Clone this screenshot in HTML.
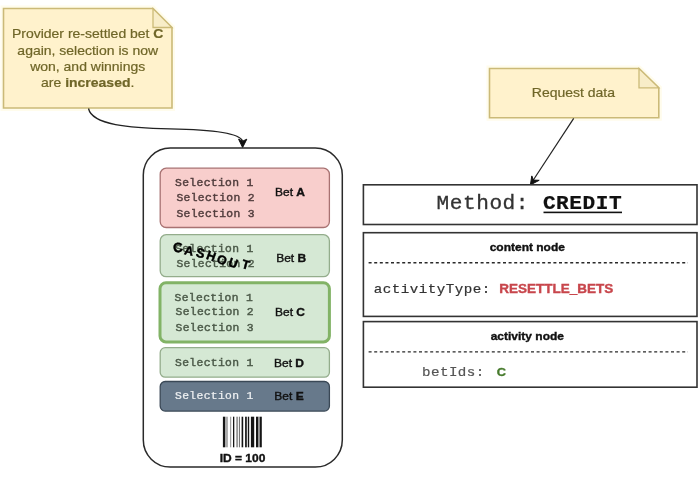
<!DOCTYPE html>
<html><head><meta charset="utf-8">
<style>
html,body{margin:0;padding:0;background:#fff;width:698px;height:499px;overflow:hidden}
svg{display:block;filter:blur(0.4px)}
.sans{font-family:"Liberation Sans",sans-serif}
.mono{font-family:"Liberation Mono",monospace}
</style></head><body>
<svg width="698" height="499" viewBox="0 0 698 499">
<rect x="0" y="0" width="698" height="499" fill="#fff"/>
<path d="M3.5 8.5 H153 L172 27.5 V108 H3.5 Z" fill="none" stroke="#fffcec" stroke-width="6"/>
<path d="M489.5 68.5 H639 L658.8 87.8 V117.8 H489.5 Z" fill="none" stroke="#fffcec" stroke-width="6"/>
<path d="M3.5 8.5 H153 L172 27.5 V108 H3.5 Z" fill="#fff2cc" stroke="#cbba78" stroke-width="1.6"/>
<path d="M153 8.5 V27.5 H172 Z" fill="#f8edc8" stroke="#cbba78" stroke-width="1.3"/>
<g transform="translate(87.7 38.0) scale(1 0.88)"><text class="sans" x="0" y="0" font-size="14" fill="#6f6628" stroke="#6f6628" stroke-width="0.22" text-anchor="middle">Provider re-settled bet <tspan font-weight="bold">C</tspan></text></g>
<g transform="translate(87.7 55.0) scale(1 0.88)"><text class="sans" x="0" y="0" font-size="14" fill="#6f6628" stroke="#6f6628" stroke-width="0.22" text-anchor="middle">again, selection is now</text></g>
<g transform="translate(87.7 71.2) scale(1 0.88)"><text class="sans" x="0" y="0" font-size="14" fill="#6f6628" stroke="#6f6628" stroke-width="0.22" text-anchor="middle">won, and winnings</text></g>
<g transform="translate(87.7 87.3) scale(1 0.88)"><text class="sans" x="0" y="0" font-size="14" fill="#6f6628" stroke="#6f6628" stroke-width="0.22" text-anchor="middle">are <tspan font-weight="bold">increased</tspan>.</text></g>
<path d="M489.5 68.5 H639 L658.8 87.8 V117.8 H489.5 Z" fill="#fff2cc" stroke="#cbba78" stroke-width="1.6"/>
<path d="M639 68.5 V87.8 H658.8 Z" fill="#f8edc8" stroke="#cbba78" stroke-width="1.3"/>
<g transform="translate(573.4 97.0) scale(1 0.88)"><text class="sans" x="0" y="0" font-size="14" fill="#6f6628" stroke="#6f6628" stroke-width="0.22" text-anchor="middle">Request data</text></g>
<path d="M88.5 108.5 C92 125 130 128 170 128.8 C215 129.6 240 133.5 242.6 141" fill="none" stroke="#222" stroke-width="1.3"/>
<path d="M242.6 147.5 L238.6 139.2 L242.6 141.2 L246.8 139.2 Z" fill="#111" stroke="#111" stroke-width="1"/>
<line x1="573.7" y1="118.4" x2="533" y2="180.5" stroke="#222" stroke-width="1.2"/>
<path d="M530.4 184.9 L531.8 175.9 L533.4 180.1 L539.2 180.3 Z" fill="#111" stroke="#111" stroke-width="1"/>
<rect x="143.3" y="148.1" width="199" height="319" rx="27" ry="27" fill="none" stroke="#2a2a2a" stroke-width="1.5"/>
<rect x="160.2" y="168.2" width="169.2" height="59.3" rx="6" ry="6" fill="#f8cecc" stroke="#a87272" stroke-width="1.3"/>
<g transform="translate(175.1 185.5) scale(1.1 1)"><text class="mono" x="0" y="0" font-size="10.3" letter-spacing="0.311" fill="#523e3e" stroke="#523e3e" stroke-width="0.42">Selection 1</text></g>
<g transform="translate(176.4 200.6) scale(1.1 1)"><text class="mono" x="0" y="0" font-size="10.3" letter-spacing="0.311" fill="#523e3e" stroke="#523e3e" stroke-width="0.42">Selection 2</text></g>
<g transform="translate(176.4 216.5) scale(1.1 1)"><text class="mono" x="0" y="0" font-size="10.3" letter-spacing="0.311" fill="#523e3e" stroke="#523e3e" stroke-width="0.42">Selection 3</text></g>
<g transform="translate(290 196.2) scale(1 0.91)"><text class="sans" x="0" y="0" font-size="12" fill="#111" stroke="#111" stroke-width="0.4" text-anchor="middle">Bet <tspan font-weight="bold">A</tspan></text></g>
<rect x="160.2" y="234.7" width="169.2" height="42" rx="6" ry="6" fill="#d5e8d4" stroke="#94ad8c" stroke-width="1.3"/>
<g transform="translate(175.1 251.8) scale(1.1 1)"><text class="mono" x="0" y="0" font-size="10.3" letter-spacing="0.311" fill="#4c5a49" stroke="#4c5a49" stroke-width="0.42">Selection 1</text></g>
<g transform="translate(176.4 266.5) scale(1.1 1)"><text class="mono" x="0" y="0" font-size="10.3" letter-spacing="0.311" fill="#4c5a49" stroke="#4c5a49" stroke-width="0.42">Selection 2</text></g>
<g transform="translate(291.2 262.1) scale(1 0.91)"><text class="sans" x="0" y="0" font-size="12" fill="#111" stroke="#111" stroke-width="0.4" text-anchor="middle">Bet <tspan font-weight="bold">B</tspan></text></g>
<g class="sans" font-weight="bold" fill="#000" text-anchor="middle" stroke="#000" stroke-width="0.45">
<text x="177.9" y="252.1" font-size="13.5" transform="rotate(-5 177.9 247.2)">C</text>
<text x="189.1" y="255.0" font-size="12.5" transform="rotate(12 189.1 250.5)">A</text>
<text x="200.6" y="257.6" font-size="12.8" transform="rotate(15 200.6 253.0)">S</text>
<text x="211.2" y="260.4" font-size="12.5" transform="rotate(20 211.2 255.9)">H</text>
<text x="222" y="264.2" font-size="12.5" transform="rotate(18 222 259.7)">O</text>
<text x="233.2" y="267.3" font-size="12.5" transform="rotate(20 233.2 262.8)">U</text>
<text x="245.8" y="268.9" font-size="12.5" transform="rotate(15 245.8 264.4)">T</text>
</g>
<rect x="160" y="282.7" width="169.4" height="59.2" rx="6" ry="6" fill="#d5e8d4" stroke="#82b366" stroke-width="3"/>
<g transform="translate(174.6 300.6) scale(1.1 1)"><text class="mono" x="0" y="0" font-size="10.3" letter-spacing="0.311" fill="#4c5a49" stroke="#4c5a49" stroke-width="0.42">Selection 1</text></g>
<g transform="translate(175.5 315.3) scale(1.1 1)"><text class="mono" x="0" y="0" font-size="10.3" letter-spacing="0.311" fill="#4c5a49" stroke="#4c5a49" stroke-width="0.42">Selection 2</text></g>
<g transform="translate(175.5 331.2) scale(1.1 1)"><text class="mono" x="0" y="0" font-size="10.3" letter-spacing="0.311" fill="#4c5a49" stroke="#4c5a49" stroke-width="0.42">Selection 3</text></g>
<g transform="translate(290 316.0) scale(1 0.91)"><text class="sans" x="0" y="0" font-size="12" fill="#111" stroke="#111" stroke-width="0.4" text-anchor="middle">Bet <tspan font-weight="bold">C</tspan></text></g>
<rect x="160.2" y="347.7" width="169.2" height="29.5" rx="5" ry="5" fill="#d5e8d4" stroke="#94ad8c" stroke-width="1.3"/>
<g transform="translate(175.1 365.5) scale(1.1 1)"><text class="mono" x="0" y="0" font-size="10.3" letter-spacing="0.311" fill="#4c5a49" stroke="#4c5a49" stroke-width="0.42">Selection 1</text></g>
<g transform="translate(289 366.6) scale(1 0.91)"><text class="sans" x="0" y="0" font-size="12" fill="#111" stroke="#111" stroke-width="0.4" text-anchor="middle">Bet <tspan font-weight="bold">D</tspan></text></g>
<rect x="160.2" y="381.5" width="169.2" height="29.6" rx="5" ry="5" fill="#67798b" stroke="#3a4856" stroke-width="1.3"/>
<g transform="translate(175.1 398.8) scale(1.1 1)"><text class="mono" x="0" y="0" font-size="10.3" letter-spacing="0.311" fill="#eef0f2" stroke="#eef0f2" stroke-width="0.25">Selection 1</text></g>
<g transform="translate(289 399.8) scale(1 0.91)"><text class="sans" x="0" y="0" font-size="12" fill="#111" stroke="#111" stroke-width="0.4" text-anchor="middle">Bet <tspan font-weight="bold">E</tspan></text></g>
<rect x="222.9" y="416.7" width="2.1" height="30.6" fill="#151515"/>
<rect x="225" y="416.7" width="2.9" height="30.6" fill="#aaa"/>
<rect x="230.1" y="416.7" width="1.1" height="30.6" fill="#999"/>
<rect x="233" y="416.7" width="1.3" height="30.6" fill="#151515"/>
<rect x="236.2" y="416.7" width="1.8" height="30.6" fill="#999"/>
<rect x="238.9" y="416.7" width="1.1" height="30.6" fill="#777"/>
<rect x="241.6" y="416.7" width="1.6" height="30.6" fill="#151515"/>
<rect x="245.1" y="416.7" width="1.7" height="30.6" fill="#151515"/>
<rect x="247.8" y="416.7" width="1.4" height="30.6" fill="#151515"/>
<rect x="250.9" y="416.7" width="3.3" height="30.6" fill="#151515"/>
<rect x="256" y="416.7" width="2.2" height="30.6" fill="#151515"/>
<rect x="258.2" y="416.7" width="1.5" height="30.6" fill="#888"/>
<rect x="259.8" y="416.7" width="2" height="30.6" fill="#151515"/>
<g transform="translate(242.5 461.8) scale(1 0.91)"><text class="sans" x="0" y="0" font-size="12" font-weight="bold" fill="#111" stroke="#111" stroke-width="0.4" text-anchor="middle">ID = 100</text></g>
<rect x="363.4" y="184.8" width="333.6" height="39.7" fill="#fff" stroke="#333" stroke-width="1.6"/>
<g transform="translate(436.6 209.3) scale(1.067 1)"><text class="mono" x="0" y="0" font-size="19.8" letter-spacing="0.491" fill="#333" stroke="#333" stroke-width="0.3">Method:</text></g>
<g transform="translate(542.9 209.3) scale(1.067 1)"><text class="mono" x="0" y="0" font-size="19.8" letter-spacing="0.491" font-weight="bold" fill="#111" stroke="#111" stroke-width="0.2">CREDIT</text></g>
<rect x="543.5" y="211.6" width="78.5" height="1.6" fill="#111"/>
<rect x="363.4" y="232.7" width="333.6" height="83.7" fill="#fff" stroke="#333" stroke-width="1.6"/>
<g transform="translate(527.3 251.0) scale(1 0.91)"><text class="sans" x="0" y="0" font-size="12" font-weight="bold" fill="#111" stroke="#111" stroke-width="0.4" text-anchor="middle">content node</text></g>
<line x1="368.6" y1="262.7" x2="688" y2="262.7" stroke="#2a2a2a" stroke-width="1.35" stroke-dasharray="3 2.6"/>
<g transform="translate(373.8 293.1) scale(1.1 1)"><text class="mono" x="0" y="0" font-size="12.9" letter-spacing="0.442" fill="#333" stroke="#333" stroke-width="0.2">activityType:</text></g>
<g transform="translate(499.3 293.3) scale(1 0.91)"><text class="sans" x="0" y="0" font-size="13.5" font-weight="bold" fill="#c8464c" stroke="#c8464c" stroke-width="0.4" text-anchor="start">RESETTLE_BETS</text></g>
<rect x="363.4" y="321.6" width="333.6" height="65.6" fill="#fff" stroke="#333" stroke-width="1.6"/>
<g transform="translate(527.3 340.3) scale(1 0.91)"><text class="sans" x="0" y="0" font-size="12" font-weight="bold" fill="#111" stroke="#111" stroke-width="0.4" text-anchor="middle">activity node</text></g>
<line x1="368.6" y1="351.9" x2="688" y2="351.9" stroke="#2a2a2a" stroke-width="1.35" stroke-dasharray="3 2.6"/>
<g transform="translate(421.9 375.8) scale(1.1 1)"><text class="mono" x="0" y="0" font-size="12.9" letter-spacing="0.442" fill="#555" stroke="#555" stroke-width="0.2">betIds:</text></g>
<g transform="translate(496.8 375.9) scale(1 0.91)"><text class="sans" x="0" y="0" font-size="12.8" font-weight="bold" fill="#467a2c" stroke="#467a2c" stroke-width="0.4" text-anchor="start">C</text></g>
</svg>
</body></html>
